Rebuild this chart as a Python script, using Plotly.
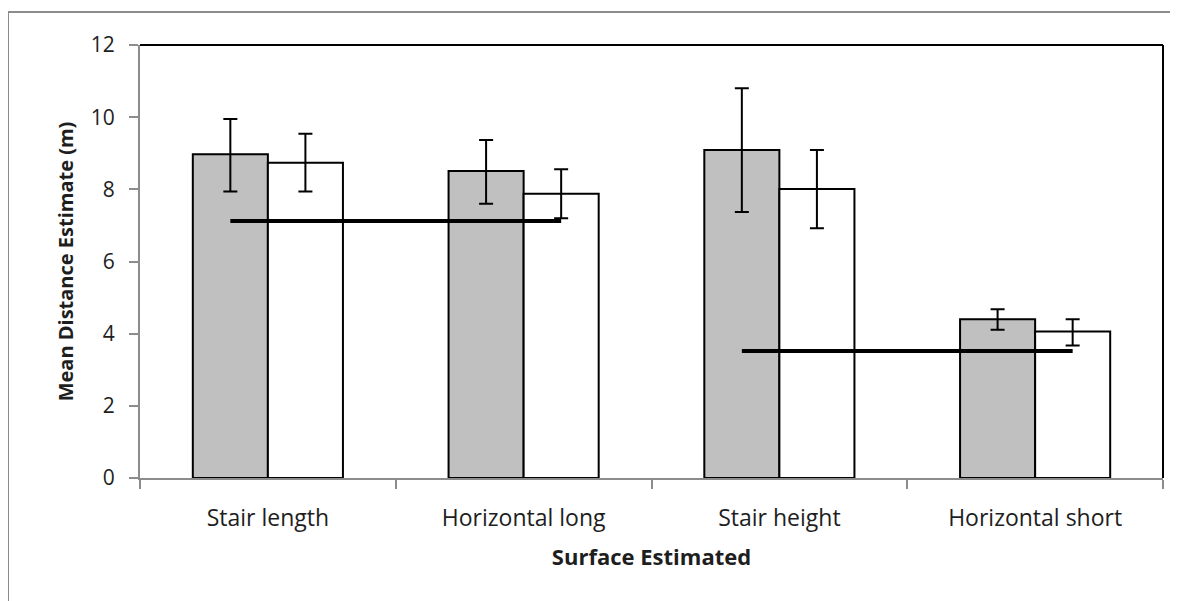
import plotly.graph_objects as go

categories = ["Stair length", "Horizontal long", "Stair height", "Horizontal short"]
gray_mean = [8.97, 8.51, 9.09, 4.40]
gray_upper = [9.95, 9.37, 10.80, 4.68]
gray_lower = [7.94, 7.60, 7.37, 4.11]
white_mean = [8.74, 7.88, 8.01, 4.06]
white_upper = [9.54, 8.56, 9.09, 4.40]
white_lower = [7.94, 7.20, 6.92, 3.67]
# reference lines: (first category index, last category index, value)
ref_lines = [(0, 1, 7.12), (2, 3, 3.52)]
y_ticks = [0, 2, 4, 6, 8, 10, 12]

BARGAP = 0.413
bar_w = (1 - BARGAP) / 2
xs = list(range(len(categories)))

FONT = "Open Sans"
TXT = "#1e1e1e"

fig = go.Figure()
fig.add_trace(go.Bar(
    x=xs, y=gray_mean, marker=dict(color="#c0c0c0", line=dict(color="black", width=2)),
    error_y=dict(type="data", symmetric=False,
                 array=[u - m for u, m in zip(gray_upper, gray_mean)],
                 arrayminus=[m - l for l, m in zip(gray_lower, gray_mean)],
                 color="black", thickness=2, width=7),
    showlegend=False))
fig.add_trace(go.Bar(
    x=xs, y=white_mean, marker=dict(color="white", line=dict(color="black", width=2)),
    error_y=dict(type="data", symmetric=False,
                 array=[u - m for u, m in zip(white_upper, white_mean)],
                 arrayminus=[m - l for l, m in zip(white_lower, white_mean)],
                 color="black", thickness=2, width=7),
    showlegend=False))

for a, b, v in ref_lines:
    fig.add_trace(go.Scatter(
        x=[a - bar_w / 2, b + bar_w / 2], y=[v, v], mode="lines",
        line=dict(color="black", width=4), showlegend=False, hoverinfo="skip"))

fig.update_layout(
    width=1170, height=593,
    margin=dict(l=132, r=15, t=37, b=123),
    paper_bgcolor="white", plot_bgcolor="white",
    barmode="group", bargap=BARGAP, bargroupgap=0,
    font=dict(family=FONT, color=TXT),
    xaxis=dict(
        range=[-0.5, len(categories) - 0.5],
        tickmode="array", tickvals=xs, ticktext=categories, ticks="",
        tickfont=dict(size=23, family=FONT, color=TXT), ticklabelstandoff=18,
        showline=True, linecolor="#8c8c8c", linewidth=2,
        showgrid=False, zeroline=False,
        minor=dict(tickmode="array", tickvals=[i - 0.5 for i in range(len(categories) + 1)],
                   ticks="outside", ticklen=9, tickcolor="#8c8c8c", tickwidth=2, showgrid=False),
        title=dict(text="<b>Surface Estimated</b>", font=dict(size=22, family=FONT, color=TXT), standoff=18),
    ),
    yaxis=dict(
        range=[0, 12], tickmode="array", tickvals=y_ticks,
        ticks="outside", ticklen=9, tickcolor="#8c8c8c", tickwidth=2,
        tickfont=dict(size=21, family=FONT, color=TXT), ticklabelstandoff=10,
        showline=True, linecolor="#8c8c8c", linewidth=2,
        showgrid=False, zeroline=False,
        title=dict(text="<b>Mean Distance Estimate (m)</b>", font=dict(size=20, family=FONT, color=TXT), standoff=12),
    ),
    shapes=[
        # black top and right plot border
        dict(type="line", xref="paper", yref="paper", x0=0, x1=1, y0=1, y1=1, line=dict(color="black", width=2)),
        dict(type="line", xref="paper", yref="paper", x0=1, x1=1, y0=0, y1=1, line=dict(color="black", width=2)),
        # outer chart frame (cropped on right/bottom)
        dict(type="line", xref="paper", yref="paper", x0=-132 / 1023, x1=1.2, y0=466 / 433, y1=466 / 433,
             line=dict(color="#8c8c8c", width=2)),
        dict(type="line", xref="paper", yref="paper", x0=-132 / 1023, x1=-132 / 1023, y0=466 / 433, y1=-0.4,
             line=dict(color="#8c8c8c", width=2)),
    ],
)

fig.write_html("out.html")
